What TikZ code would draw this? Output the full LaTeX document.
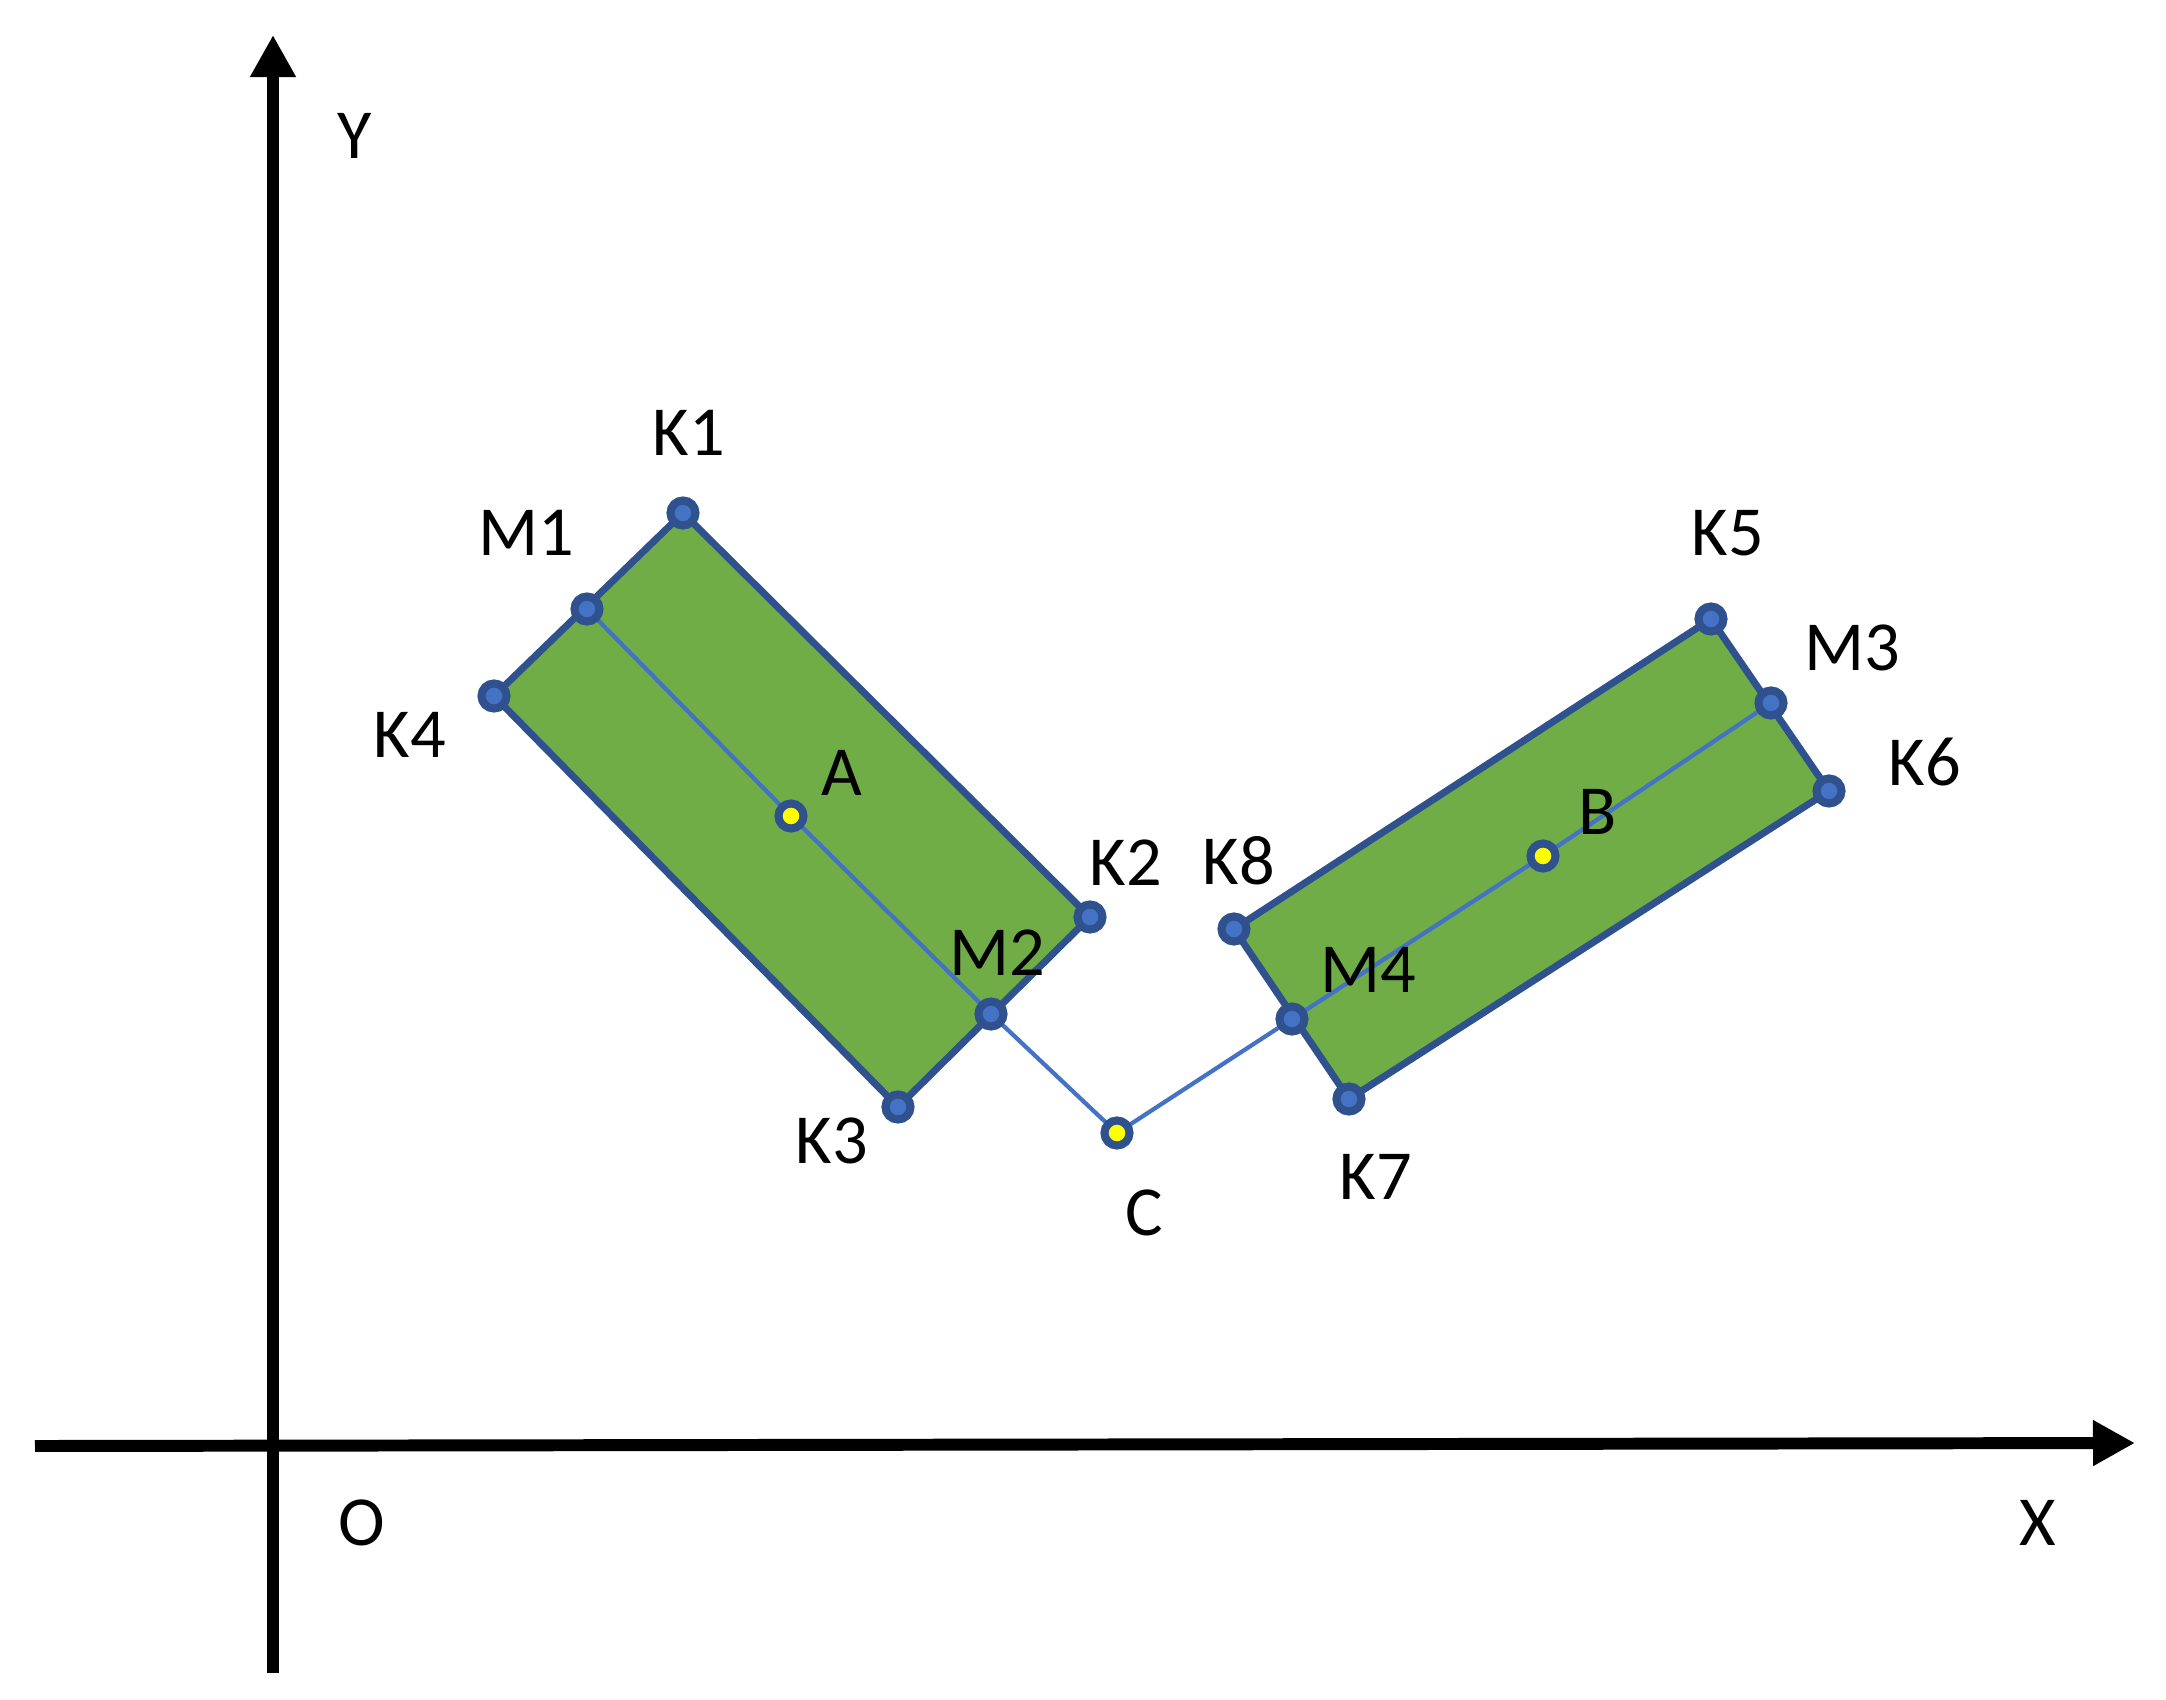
\documentclass[tikz,border=0pt]{standalone}
\usepackage{fontspec}
\setmainfont{Carlito}
\usetikzlibrary{arrows.meta}
\definecolor{boxgreen}{HTML}{70AD47}
\definecolor{edgeblue}{HTML}{2F528F}
\definecolor{lineblue}{HTML}{4472C4}
\definecolor{dotyellow}{HTML}{FFFF00}

\begin{document}
\begin{tikzpicture}[x=0.01cm,y=-0.01cm,
  axis/.style={line width=3.4pt,-{Triangle[length=0.42cm,width=0.43cm]}},
  body/.style={fill=boxgreen,draw=edgeblue,line width=2pt,line join=round},
  midline/.style={draw=lineblue,line width=1.2pt},
  corner/.style={circle,draw=edgeblue,fill=lineblue,line width=2.3pt,minimum size=0.25cm,inner sep=0pt},
  centre/.style={corner,fill=dotyellow},
  lbl/.style={font=\fontsize{20}{24}\selectfont,inner sep=0pt}]
  \useasboundingbox (0,0) rectangle (2166,1700);

  % Axes
  \coordinate (xfrom) at (35,1446);
  \coordinate (xto) at (2135,1443);
  \coordinate (yfrom) at (273,1673);
  \coordinate (yto) at (273,35);
  \draw[axis] (xfrom) -- (xto);
  \draw[axis] (yfrom) -- (yto);
  \node[lbl] (labY) at (355,136) {Y};
  \node[lbl] (labO) at (362,1523) {O};
  \node[lbl] (labX) at (2038,1523) {X};

  % First body
  \coordinate (K1) at (683,513);
  \coordinate (K2) at (1090,917);
  \coordinate (K3) at (898,1107);
  \coordinate (K4) at (494,696);
  \coordinate (M1) at (587,609);
  \coordinate (M2) at (991,1014);
  \coordinate (A) at (791,816);

  % Second body
  \coordinate (K5) at (1711,619);
  \coordinate (K6) at (1829,791);
  \coordinate (K7) at (1349,1099);
  \coordinate (K8) at (1234,929);
  \coordinate (M3) at (1771,703);
  \coordinate (M4) at (1292,1019);
  \coordinate (B) at (1543,856);

  % Joint
  \coordinate (C) at (1117,1133);

  \draw[body] (K1) -- (K2) -- (K3) -- (K4) -- cycle;
  \draw[body] (K5) -- (K6) -- (K7) -- (K8) -- cycle;
  \draw[midline] (M1) -- (A) -- (M2) -- (C) -- (M4) -- (B) -- (M3);

  % Points
  \foreach \p in {K1,K2,K3,K4,M1,M2,K5,K6,K7,K8,M3,M4}
    \node[corner] (dot\p) at (\p) {};
  \foreach \p in {A,B,C}
    \node[centre] (dot\p) at (\p) {};

  % Labels
  \node[lbl] (labK1) at (689,433) {K1};
  \node[lbl] (labM1) at (526,533) {M1};
  \node[lbl] (labK4) at (410,735) {K4};
  \node[lbl] (labA) at (842,773) {A};
  \node[lbl] (labK2) at (1126,863) {K2};
  \node[lbl] (labM2) at (997,953) {M2};
  \node[lbl] (labK3) at (832,1141) {K3};
  \node[lbl] (labC) at (1144,1213) {C};
  \node[lbl] (labK5) at (1728,533) {K5};
  \node[lbl] (labM3) at (1852,648) {M3};
  \node[lbl] (labK6) at (1925,762) {K6};
  \node[lbl] (labB) at (1598,812) {B};
  \node[lbl] (labK8) at (1239,861) {K8};
  \node[lbl] (labM4) at (1368,970) {M4};
  \node[lbl] (labK7) at (1376,1177) {K7};
\end{tikzpicture}
\end{document}
